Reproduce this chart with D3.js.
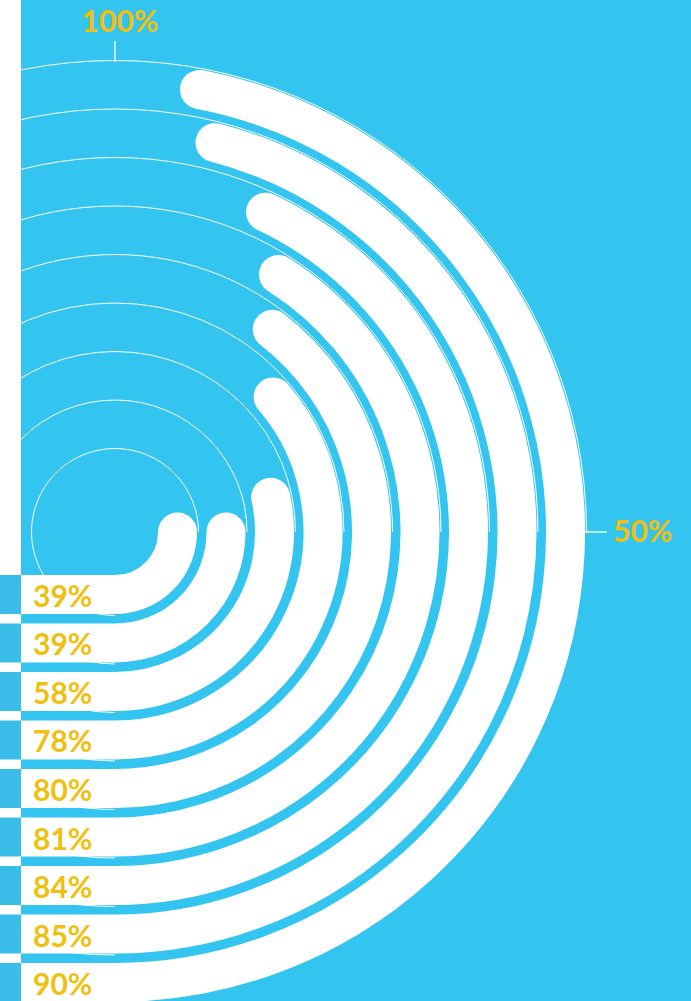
<!DOCTYPE html>
<html>
<head>
<meta charset="utf-8">
<script src="https://cdn.jsdelivr.net/npm/d3@7"></script>
<style>
  body { margin: 0; background: #fff; }
  svg { display: block; }
  text { font-family: Lato, "Open Sans", sans-serif; }
</style>
</head>
<body>
<div class="chart"></div>
<script>
const w = 691;
const h = 1001;

// shares printed next to each ring, inner ring first
const shares = [39, 39, 58, 78, 80, 81, 84, 85, 90];
// where each ring's arc actually stops (percent of the half circle)
const arcEnds = [50, 50, 57, 72.5, 79, 82, 86, 92, 94];
const axisTicks = [100, 50];

const cx = 115;
const cy = 532;
const stripWidth = 21;
const blue = "#33c5f0";
const yellow = "#f0bf0f";

const svg = d3.select(".chart")
  .append("svg")
  .attr("width", w)
  .attr("height", h);

svg.append("rect")
  .attr("x", stripWidth)
  .attr("y", 0)
  .attr("width", w - stripWidth)
  .attr("height", h)
  .attr("fill", blue);

const ring = d3.scaleBand()
  .domain(d3.range(shares.length))
  .range([43, 470])
  .paddingInner(0.196);

const bw = ring.bandwidth();

// 0% at the bottom, 50% at the right, 100% at the top (canvas angles)
const angle = d3.scaleLinear()
  .domain([0, 100])
  .range([Math.PI / 2, -Math.PI / 2]);

// thin guide arcs, from the bottom round the left and top to the right side
svg.append("g")
  .selectAll("path")
  .data(d3.range(shares.length))
  .enter().append("path")
  .attr("d", (i) => {
    const p = d3.path();
    const r = ring(i) + bw + 1.5;
    p.arc(cx, cy, r, Math.PI / 2, angle(50), false);
    return p.toString();
  })
  .attr("fill", "none")
  .attr("stroke", "#fff")
  .attr("stroke-width", 1);

// the rings: straight run from the left edge, then the arc
svg.append("g")
  .selectAll("path")
  .data(arcEnds)
  .enter().append("path")
  .attr("d", (d, i) => {
    const r = ring(i) + bw / 2;
    const p = d3.path();
    p.moveTo(0, cy + r);
    p.lineTo(cx, cy + r);
    p.arc(cx, cy, r, Math.PI / 2, angle(d), true);
    return p.toString();
  })
  .attr("fill", "none")
  .attr("stroke", "#fff")
  .attr("stroke-width", bw)
  .attr("stroke-linecap", "round");

// left strip with a square beside each ring
svg.append("rect")
  .attr("x", 0)
  .attr("y", 0)
  .attr("width", stripWidth)
  .attr("height", h)
  .attr("fill", "#fff");

svg.append("g")
  .selectAll("rect")
  .data(d3.range(shares.length))
  .enter().append("rect")
  .attr("x", 0)
  .attr("y", (i) => cy + ring(i))
  .attr("width", stripWidth)
  .attr("height", bw)
  .attr("fill", "#3bbde9");

svg.append("g")
  .selectAll("text")
  .data(shares)
  .enter().append("text")
  .attr("x", 33)
  .attr("y", (d, i) => cy + ring(i) + bw / 2 + 12.5)
  .attr("fill", yellow)
  .attr("font-size", "30px")
  .attr("font-weight", "bold")
  .text((d) => d + "%");

// axis ticks for 100% (top) and 50% (right)
const outer = ring(shares.length - 1) + bw;
axisTicks.forEach((t) => {
  const a = angle(t);
  const x1 = cx + Math.cos(a) * outer;
  const y1 = cy + Math.sin(a) * outer;
  const x2 = cx + Math.cos(a) * (outer + 22);
  const y2 = cy + Math.sin(a) * (outer + 21);
  svg.append("line")
    .attr("x1", x1).attr("y1", y1)
    .attr("x2", x2).attr("y2", y2)
    .attr("stroke", "#e6f7fd")
    .attr("stroke-width", 1.5);
  const top = t === 100;
  svg.append("text")
    .attr("x", top ? x2 + 5 : x2 + 6)
    .attr("y", top ? y2 - 9 : y2 + 10)
    .attr("text-anchor", top ? "middle" : "start")
    .attr("fill", yellow)
    .attr("font-size", "30px")
    .attr("font-weight", "bold")
    .text(t + "%");
});
</script>
</body>
</html>
